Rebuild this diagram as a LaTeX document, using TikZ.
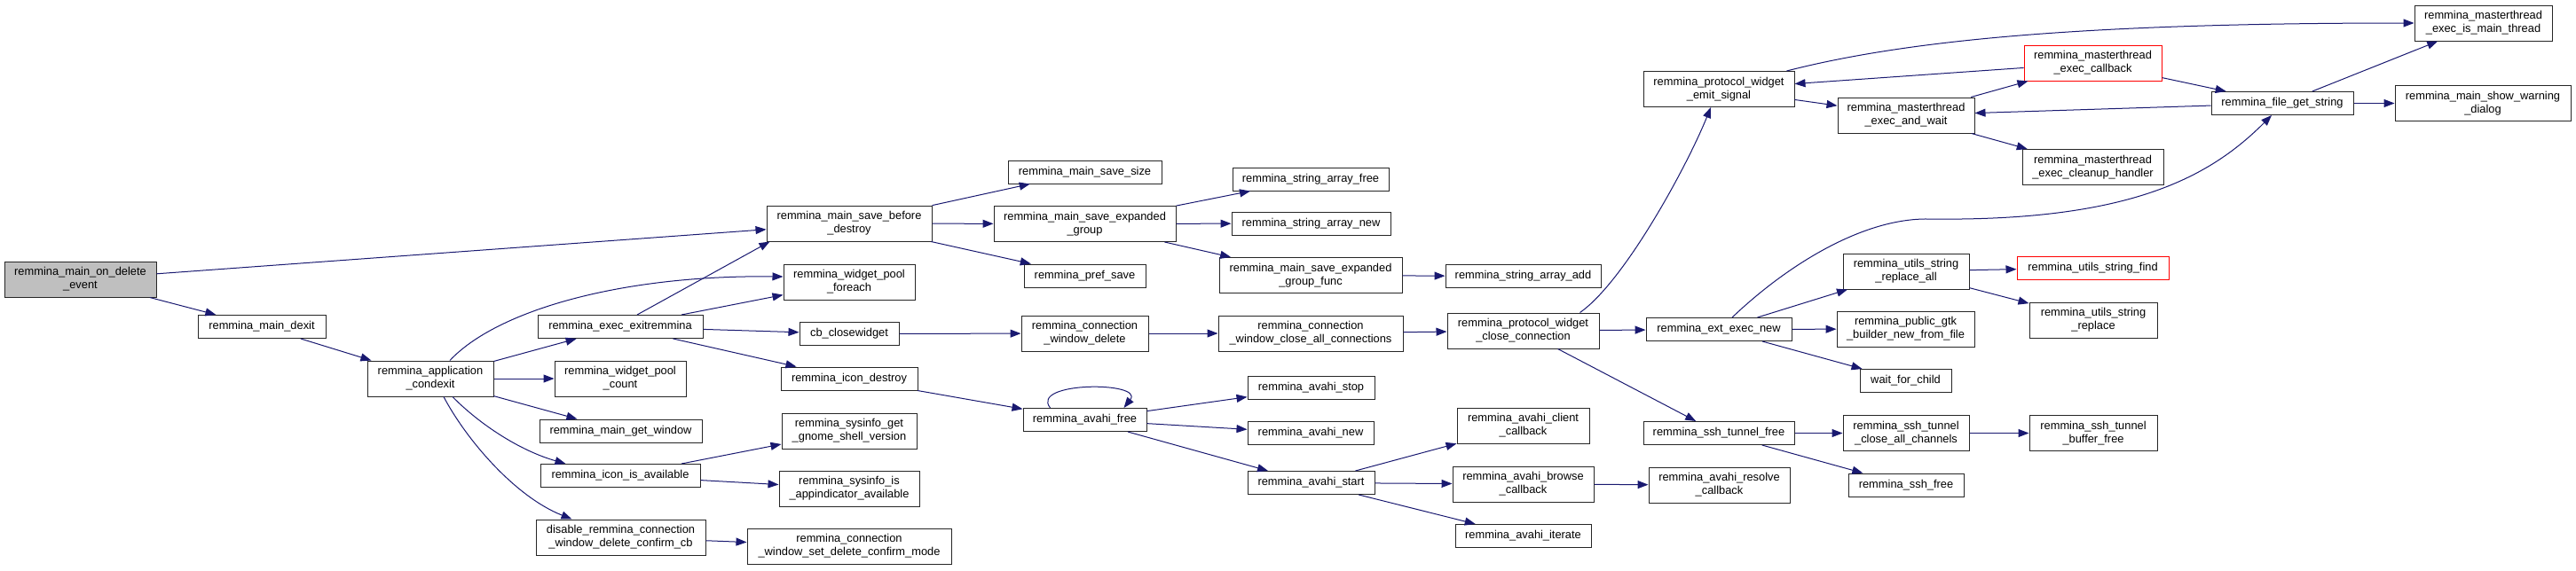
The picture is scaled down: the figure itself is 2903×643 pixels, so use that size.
\documentclass[tikz,border=0pt]{standalone}
\usepackage{fontspec}
\setsansfont{Liberation Sans}
\usepackage{xcolor}
\usepackage{tikz}
\usetikzlibrary{arrows.meta}

\definecolor{callblue}{RGB}{25,25,112}
\definecolor{rootgray}{RGB}{191,191,191}

\begin{document}
\begin{tikzpicture}[
    x=1pt, y=1pt,
    fn/.style={
        rectangle, draw=black!85, fill=white,
        line width=1pt, inner sep=0pt, align=center,
        font=\sffamily\fontsize{12.85}{15}\selectfont
    },
    one/.style={fn, minimum height=26pt},
    two/.style={fn, minimum height=40pt},
    root/.style={fill=rootgray},
    trunc/.style={draw=red},
    call/.style={-{Triangle[length=12pt,width=9pt]}, draw=callblue, line width=1pt}
]
\useasboundingbox (0,0) rectangle (2903,-643);

% Root and first calls
\node[two, root, minimum width=171pt] (ondel) at (90.5,-315) {remmina\_main\_on\_delete\\\_event};
\node[one, minimum width=144pt] (dexit) at (295,-368.5) {remmina\_main\_dexit};
\node[two, minimum width=142pt] (condexit) at (485,-427) {remmina\_application\\\_condexit};

% Called from condexit
\node[one, minimum width=186pt] (exitrem) at (699,-368.5) {remmina\_exec\_exitremmina};
\node[two, minimum width=148pt] (poolcount) at (699,-427) {remmina\_widget\_pool\\\_count};
\node[one, minimum width=183pt] (getwin) at (699.5,-486) {remmina\_main\_get\_window};
\node[one, minimum width=180pt] (iconavail) at (699,-536.5) {remmina\_icon\_is\_available};
\node[two, minimum width=191pt] (disable) at (699.5,-606) {disable\_remmina\_connection\\\_window\_delete\_confirm\_cb};

% Fourth column
\node[two, minimum width=186pt] (savebefore) at (957,-252) {remmina\_main\_save\_before\\\_destroy};
\node[two, minimum width=148pt] (foreach) at (957,-318) {remmina\_widget\_pool\\\_foreach};
\node[one, minimum width=112pt] (cbclose) at (957,-376.5) {cb\_closewidget};
\node[one, minimum width=154pt] (icondestroy) at (957,-427) {remmina\_icon\_destroy};
\node[two, minimum width=152pt] (gnome) at (957,-486) {remmina\_sysinfo\_get\\\_gnome\_shell\_version};
\node[two, minimum width=158pt] (appind) at (957,-551) {remmina\_sysinfo\_is\\\_appindicator\_available};
\node[two, minimum width=230pt] (setdel) at (957,-616) {remmina\_connection\\\_window\_set\_delete\_confirm\_mode};

% Fifth column
\node[one, minimum width=173pt] (savesize) at (1222.5,-194) {remmina\_main\_save\_size};
\node[two, minimum width=205pt] (expgroup) at (1222.5,-252.5) {remmina\_main\_save\_expanded\\\_group};
\node[one, minimum width=137pt] (prefsave) at (1222.5,-311) {remmina\_pref\_save};
\node[two, minimum width=143pt] (cwdelete) at (1222.5,-376) {remmina\_connection\\\_window\_delete};
\node[one, minimum width=139pt] (avfree) at (1222.5,-473.5) {remmina\_avahi\_free};

% Sixth column
\node[one, minimum width=176pt] (arrfree) at (1477,-202) {remmina\_string\_array\_free};
\node[one, minimum width=179pt] (arrnew) at (1477.5,-252) {remmina\_string\_array\_new};
\node[two, minimum width=206pt] (expfunc) at (1477,-310.5) {remmina\_main\_save\_expanded\\\_group\_func};
\node[two, minimum width=208pt] (closeallconn) at (1477,-376) {remmina\_connection\\\_window\_close\_all\_connections};
\node[one, minimum width=143pt] (avstop) at (1477.5,-437.5) {remmina\_avahi\_stop};
\node[one, minimum width=142pt] (avnew) at (1477,-488.5) {remmina\_avahi\_new};
\node[one, minimum width=143pt] (avstart) at (1477.5,-544.5) {remmina\_avahi\_start};

% Seventh column
\node[one, minimum width=175pt] (arradd) at (1716.5,-311.5) {remmina\_string\_array\_add};
\node[two, minimum width=171pt] (closeconn) at (1716.5,-373) {remmina\_protocol\_widget\\\_close\_connection};
\node[two, minimum width=149pt] (avclient) at (1716.5,-480) {remmina\_avahi\_client\\\_callback};
\node[two, minimum width=159pt] (avbrowse) at (1716.5,-546) {remmina\_avahi\_browse\\\_callback};
\node[one, minimum width=153pt] (aviter) at (1716.5,-604.5) {remmina\_avahi\_iterate};

% Eighth column
\node[two, minimum width=170pt] (emit) at (1937,-100.5) {remmina\_protocol\_widget\\\_emit\_signal};
\node[one, minimum width=164pt] (exec) at (1937,-371.5) {remmina\_ext\_exec\_new};
\node[one, minimum width=170pt] (tunfree) at (1937,-488.5) {remmina\_ssh\_tunnel\_free};
\node[two, minimum width=159pt] (avresolve) at (1937.5,-547) {remmina\_avahi\_resolve\\\_callback};

% Ninth column
\node[two, minimum width=154pt] (andwait) at (2148,-130) {remmina\_masterthread\\\_exec\_and\_wait};
\node[two, minimum width=142pt] (repall) at (2148,-306) {remmina\_utils\_string\\\_replace\_all};
\node[two, minimum width=155pt] (gtkb) at (2147.5,-371) {remmina\_public\_gtk\\\_builder\_new\_from\_file};
\node[one, minimum width=103pt] (wfc) at (2147.5,-429.5) {wait\_for\_child};
\node[two, minimum width=142pt] (closeall) at (2148,-488.5) {remmina\_ssh\_tunnel\\\_close\_all\_channels};
\node[one, minimum width=130pt] (sshfree) at (2148,-547) {remmina\_ssh\_free};

% Tenth column
\node[two, trunc, minimum width=155pt] (callback) at (2358.5,-71) {remmina\_masterthread\\\_exec\_callback};
\node[two, minimum width=159pt] (cleanup) at (2358.5,-188.5) {remmina\_masterthread\\\_exec\_cleanup\_handler};
\node[one, trunc, minimum width=171pt] (strfind) at (2358.5,-302) {remmina\_utils\_string\_find};
\node[two, minimum width=144pt] (strrep) at (2359,-361) {remmina\_utils\_string\\\_replace};
\node[two, minimum width=144pt] (buffree) at (2359,-488.5) {remmina\_ssh\_tunnel\\\_buffer\_free};

% Last columns
\node[one, minimum width=160pt] (filestr) at (2572,-116.5) {remmina\_file\_get\_string};
\node[two, minimum width=155pt] (ismain) at (2798.5,-26) {remmina\_masterthread\\\_exec\_is\_main\_thread};
\node[two, minimum width=198pt] (warn) at (2798,-116.5) {remmina\_main\_show\_warning\\\_dialog};

% Arrows
\draw[call] (ondel) -- (savebefore);
\draw[call] (ondel) -- (dexit);
\draw[call] (dexit) -- (condexit);
\draw[call] ([xshift=22pt]condexit.north) .. controls (560,-350) and (700,-310) .. ([yshift=6pt]foreach.west);
\draw[call] (condexit) -- (exitrem);
\draw[call] (condexit) -- (poolcount);
\draw[call] (condexit) -- (getwin);
\draw[call] ([xshift=25pt]condexit.south) .. controls (540,-478) and (585,-508) .. ([xshift=29pt]iconavail.north west);
\draw[call] ([xshift=15pt]condexit.south) .. controls (525,-495) and (580,-560) .. ([xshift=41pt]disable.north west);
\draw[call] ([xshift=19pt]exitrem.north) -- ([xshift=4pt]savebefore.south west);
\draw[call] (exitrem) -- (foreach);
\draw[call] (exitrem) -- (cbclose);
\draw[call] (exitrem) -- (icondestroy);
\draw[call] (savebefore) -- (savesize);
\draw[call] (savebefore) -- (expgroup);
\draw[call] (savebefore) -- (prefsave);
\draw[call] (expgroup) -- (arrfree);
\draw[call] (expgroup) -- (arrnew);
\draw[call] (expgroup) -- (expfunc);
\draw[call] (expfunc) -- (arradd);
\draw[call] (cbclose) -- (cwdelete);
\draw[call] (cwdelete) -- (closeallconn);
\draw[call] (closeallconn) -- (closeconn);
\draw[call] ([xshift=-22pt]closeconn.north east) .. controls (1830,-318) and (1900,-190) .. ([xshift=-9pt]emit.south);
\draw[call] (closeconn) -- (exec);
\draw[call] (closeconn) -- (tunfree);
\draw[call] (icondestroy) -- (avfree);
\draw[call] ([xshift=-39pt]avfree.north) .. controls (1160,-430) and (1290,-430) .. ([xshift=44pt]avfree.north);
\draw[call] (avfree) -- (avstop);
\draw[call] (avfree) -- (avnew);
\draw[call] (avfree) -- (avstart);
\draw[call] (avstart) -- (avclient);
\draw[call] (avstart) -- (avbrowse);
\draw[call] (avstart) -- (aviter);
\draw[call] (avbrowse) -- (avresolve);
\draw[call] (iconavail) -- (gnome);
\draw[call] (iconavail) -- (appind);
\draw[call] (disable) -- (setdel);
\draw[call] (emit) -- (andwait);
\draw[call] ([xshift=-9pt]emit.north east) .. controls (2150,-45) and (2350,-26) .. (ismain.west);
\draw[call] (andwait) -- (callback);
\draw[call] (andwait) -- (cleanup);
\draw[call] (callback) -- (emit);
\draw[call] (callback) -- (filestr);
\draw[call] (filestr) -- (andwait);
\draw[call] (filestr) -- (ismain);
\draw[call] (filestr) -- (warn);
\draw[call] ([xshift=15pt]exec.north) .. controls (2015,-298) and (2100,-246) .. (2173,-247)
    .. controls (2400,-250) and (2490,-200) .. ([xshift=-12pt]filestr.south);
\draw[call] (exec) -- (repall);
\draw[call] (exec) -- (gtkb);
\draw[call] (exec) -- (wfc);
\draw[call] (repall) -- (strfind);
\draw[call] (repall) -- (strrep);
\draw[call] (tunfree) -- (closeall);
\draw[call] (tunfree) -- (sshfree);
\draw[call] (closeall) -- (buffree);
\end{tikzpicture}
\end{document}
